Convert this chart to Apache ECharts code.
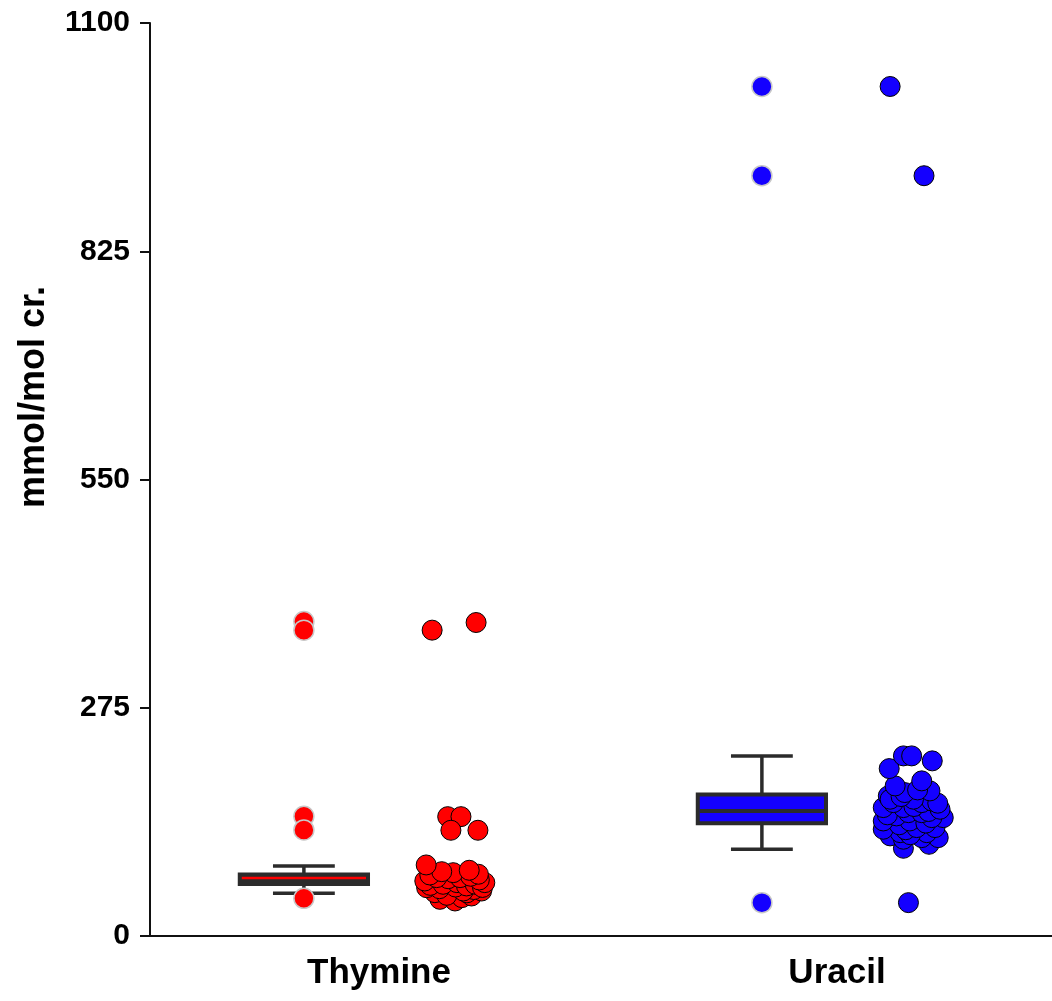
<!DOCTYPE html>
<html>
<head>
<meta charset="utf-8">
<script src="https://cdn.jsdelivr.net/npm/echarts@6/dist/echarts.min.js"></script>
<style>
  html, body { margin: 0; padding: 0; background: #fff; }
  #main { width: 1052px; height: 1001px; }
</style>
</head>
<body>
<div id="main"></div>
<script>
// categories and tick labels
var categories = ['Thymine', 'Uracil'];
var yTicks = [0, 275, 550, 825, 1100];

// box plots: [x position, min, Q1, median, Q3, max]
var boxX = [0.336, 1.336];
var thymineBox = [51.5, 62.7, 69.9, 74.1, 84.4];
var uracilBox = [104.5, 135.9, 150.7, 170.6, 217];

// outliers drawn with the box plots
var thymineBoxOutliers = [378.9, 368.5, 144.3, 127.8, 45.4];
var uracilBoxOutliers = [1023.5, 916, 40.2];

// individual points (x position on hidden axis, value)
var thymineDotX = [0.616, 0.712, 0.650, 0.679, 0.657, 0.716,
  0.633, 0.666, 0.681, 0.702, 0.622, 0.655, 0.648, 0.692, 0.724, 0.707,
  0.604, 0.632, 0.684, 0.667, 0.612, 0.640, 0.670, 0.691, 0.710, 0.726,
  0.731, 0.600, 0.719, 0.651, 0.626, 0.677, 0.700, 0.611,
  0.717, 0.662, 0.637, 0.697, 0.603];
var thymineDotY = [368.5, 377.7, 143.8, 143.8, 127.4, 127.4,
  44.2, 42.2, 46.2, 48.2, 52.2, 54.2, 49.0, 52.0, 54.2, 56.0,
  58.2, 57.0, 54.2, 59.0, 61.0, 62.3, 64.3, 60.3, 62.3, 58.5,
  64.3, 66.3, 67.5, 69.0, 70.3, 70.3, 72.0, 73.5,
  74.4, 76.3, 77.5, 79.2, 85.6];

var uracilDotX = [1.616, 1.690, 1.656,
  1.645, 1.701, 1.721, 1.616, 1.645, 1.685, 1.638, 1.696, 1.660,
  1.601, 1.650, 1.674, 1.714, 1.636, 1.601, 1.659, 1.694, 1.732,
  1.707, 1.630, 1.610, 1.656, 1.685, 1.700, 1.725, 1.601, 1.645,
  1.668, 1.623, 1.685, 1.707, 1.720, 1.667, 1.612, 1.616, 1.640,
  1.648, 1.703, 1.676, 1.627, 1.685,
  1.614, 1.708, 1.645, 1.663];
var uracilDotY = [1023.5, 916, 40.2,
  105.7, 110.5, 118.5, 120.6, 116.6, 118.5, 124.5, 124.5, 122,
  128.6, 128, 130.6, 130.6, 134, 138.6, 138.6, 136, 142.6,
  142.6, 144.7, 146, 148.6, 148.6, 150, 152.7, 154.7, 154.7,
  156, 160.7, 160.7, 162.7, 160, 164.8, 168.8, 164.8, 168,
  172.8, 174.8, 176, 180.8, 186.9,
  201.7, 211, 217, 217];

var red = '#ff0000';
var blue = '#1400ff';
var dark = '#2b2b2b';
var boxWidth = 0.28;
var capWidth = 0.135;
var dotSize = 20;
var boxStyles = [
  { fill: dark, median: red, medianWidth: 2.5 },
  { fill: blue, median: dark, medianWidth: 4 }
];

function pairs(xs, ys) {
  return ys.map(function (y, i) { return [xs[i], y]; });
}
function atX(x, ys) {
  return ys.map(function (y) { return [x, y]; });
}

function renderBox(params, api) {
  var x = api.value(0);
  var lo = api.coord([x, api.value(1)]);
  var q1 = api.coord([x, api.value(2)]);
  var med = api.coord([x, api.value(3)]);
  var q3 = api.coord([x, api.value(4)]);
  var hi = api.coord([x, api.value(5)]);
  var half = api.size([boxWidth, 0])[0] / 2;
  var cap = api.size([capWidth, 0])[0] / 2;
  var st = boxStyles[params.dataIndex];
  var cx = lo[0];
  var lineStyle = { stroke: dark, lineWidth: 3.5 };
  return {
    type: 'group',
    children: [
      { type: 'line', shape: { x1: cx, y1: lo[1], x2: cx, y2: q1[1] }, style: lineStyle },
      { type: 'line', shape: { x1: cx, y1: q3[1], x2: cx, y2: hi[1] }, style: lineStyle },
      { type: 'line', shape: { x1: cx - cap, y1: lo[1], x2: cx + cap, y2: lo[1] }, style: lineStyle },
      { type: 'line', shape: { x1: cx - cap, y1: hi[1], x2: cx + cap, y2: hi[1] }, style: lineStyle },
      { type: 'rect', shape: { x: cx - half, y: q3[1], width: half * 2, height: q1[1] - q3[1] },
        style: { fill: st.fill, stroke: dark, lineWidth: 4 } },
      { type: 'line', shape: { x1: cx - half + 2, y1: med[1], x2: cx + half - 2, y2: med[1] },
        style: { stroke: st.median, lineWidth: st.medianWidth } }
    ]
  };
}

var font = '"Liberation Sans", Arial, sans-serif';
var myChart = echarts.init(document.getElementById('main'));

option = {
  backgroundColor: '#fff',
  animation: false,
  grid: { left: 150, right: -14, top: 23, bottom: 65, containLabel: false, outerBoundsMode: 'none' },
  xAxis: [
    {
      type: 'category',
      data: categories,
      boundaryGap: true,
      axisLine: { lineStyle: { color: '#111', width: 2 } },
      axisTick: { alignWithLabel: true, length: 10, lineStyle: { color: '#111', width: 2 } },
      axisLabel: { color: '#000', fontSize: 35, fontWeight: 'bold', fontFamily: font, margin: 20 },
      splitLine: { show: false }
    },
    { type: 'value', min: 0, max: 2, show: false }
  ],
  yAxis: {
    type: 'value',
    min: yTicks[0],
    max: yTicks[yTicks.length - 1],
    interval: 275,
    axisLine: { show: true, lineStyle: { color: '#111', width: 2 } },
    axisTick: { show: true, length: 10, lineStyle: { color: '#111', width: 2 } },
    axisLabel: {
      color: '#000', fontSize: 30, fontWeight: 'bold', fontFamily: font, margin: 20,
      formatter: function (v) { return String(v); }
    },
    splitLine: { show: false }
  },
  graphic: [{
    type: 'text',
    x: 34,
    y: 397,
    rotation: Math.PI / 2,
    style: {
      text: 'mmol/mol cr.',
      fill: '#000',
      font: 'bold 36px ' + font,
      textAlign: 'center',
      textVerticalAlign: 'middle'
    }
  }],
  series: [
    {
      type: 'custom',
      xAxisIndex: 1,
      renderItem: renderBox,
      data: [[boxX[0]].concat(thymineBox), [boxX[1]].concat(uracilBox)],
      z: 2
    },
    {
      type: 'scatter',
      xAxisIndex: 1,
      symbolSize: dotSize,
      itemStyle: { color: red, borderColor: '#c8c8c8', borderWidth: 1.5, opacity: 1 },
      data: atX(boxX[0], thymineBoxOutliers),
      z: 3
    },
    {
      type: 'scatter',
      xAxisIndex: 1,
      symbolSize: dotSize,
      itemStyle: { color: blue, borderColor: '#c8c8c8', borderWidth: 1.5, opacity: 1 },
      data: atX(boxX[1], uracilBoxOutliers),
      z: 3
    },
    {
      type: 'scatter',
      xAxisIndex: 1,
      symbolSize: dotSize,
      itemStyle: { color: red, borderColor: '#000', borderWidth: 1, opacity: 1 },
      data: pairs(thymineDotX, thymineDotY),
      z: 3
    },
    {
      type: 'scatter',
      xAxisIndex: 1,
      symbolSize: dotSize,
      itemStyle: { color: blue, borderColor: '#000', borderWidth: 1, opacity: 1 },
      data: pairs(uracilDotX, uracilDotY),
      z: 3
    }
  ]
};

if (option && typeof option === "object") {
  myChart.setOption(option, true);
}
</script>
</body>
</html>
